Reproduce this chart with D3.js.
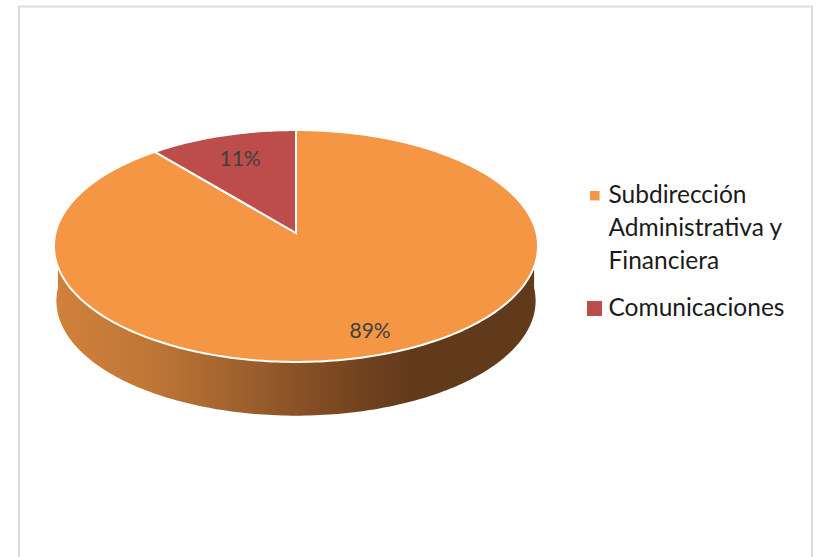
<!DOCTYPE html>
<html>
<head>
<meta charset="utf-8">
<script src="https://cdn.jsdelivr.net/npm/d3@7/dist/d3.min.js"></script>
<style>
  html, body { margin: 0; padding: 0; background: #fff; }
  svg { display: block; }
  text { font-family: Lato, "Open Sans", sans-serif; }
</style>
</head>
<body>
<svg id="chart" width="816" height="557"></svg>
<script>
// Budget share by office
const categories = ["Subdirección Administrativa y Financiera", "Comunicaciones"];
const values = [89, 11];
const legendLines = [["Subdirección", "Administrativa y", "Financiera"], ["Comunicaciones"]];
const colors = ["#F59645", "#BC4D4B"];

const width = 816, height = 557;
const svg = d3.select("#chart");

// Tilted disc: unit-circle points pass through a perspective projection
const hub = { x: 296, y: 233 };
const radiusX = 240.5, radiusY = 114.5, tilt = -0.112;
const project = (angle, r = 1, scale = 1, drop = 0) => {
  const u = Math.sin(angle) * r, v = -Math.cos(angle) * r;
  const w = 1 + tilt * v;
  return [hub.x + scale * radiusX * u / w, hub.y + drop + scale * radiusY * v / w];
};
const line = d3.line();

// Chart frame, open at the lower edge
svg.append("path")
  .attr("d", line([[19, height], [19, 6.5], [812, 6.5], [812, height]]))
  .attr("fill", "none").attr("stroke", "#DCDCDC").attr("stroke-width", 2);

// Rim shading runs from warm orange at the left to dark brown at the right
const defs = svg.append("defs");
const rimShade = defs.append("linearGradient").attr("id", "rim")
  .attr("gradientUnits", "userSpaceOnUse")
  .attr("x1", 57).attr("x2", 535).attr("y1", 0).attr("y2", 0);
[[0, "#D0813B"], [0.2, "#BE7636"], [0.36, "#A3642F"], [0.5, "#8A5227"], [0.66, "#6E401E"], [0.76, "#61391B"], [1, "#61391B"]]
  .forEach(([o, c]) => rimShade.append("stop").attr("offset", o).attr("stop-color", c));

// Rim: lower outline of the disc, closed behind the top face
const rimDrop = 55, rimScale = 0.99;
const sweep = d3.range(Math.PI * 0.5, Math.PI * 1.5 + 0.001, Math.PI / 180);
const lower = sweep.map(a => project(a, 1, rimScale, rimDrop));
const rimPath = [...lower, [lower[lower.length - 1][0], 252], [lower[0][0], 252]];
svg.append("path").attr("d", line(rimPath) + "Z").attr("fill", "url(#rim)");

// Top-face slices
const pie = d3.pie().sort(null)(values);
const sliceOutline = d => {
  const steps = d3.range(d.startAngle, d.endAngle, Math.PI / 180).concat(d.endAngle);
  return line([[hub.x, hub.y], ...steps.map(a => project(a))]) + "Z";
};
svg.selectAll("path.slice").data(pie).join("path")
  .attr("class", "slice")
  .attr("d", sliceOutline)
  .attr("fill", (d, i) => colors[i])
  .attr("stroke", "#fff").attr("stroke-width", 2).attr("stroke-linejoin", "miter");

// Percentage labels
const labelRadius = [0.83, 0.74];
const total = d3.sum(values);
svg.selectAll("text.pct").data(pie).join("text")
  .attr("class", "pct")
  .attr("x", (d, i) => project((d.startAngle + d.endAngle) / 2, labelRadius[i])[0])
  .attr("y", (d, i) => project((d.startAngle + d.endAngle) / 2, labelRadius[i])[1] + 7)
  .attr("text-anchor", "middle")
  .attr("font-size", 21).attr("fill", "#404040")
  .text(d => d3.format(".0%")(d.value / total));

// Legend
const legendX = 608.5;
const baselines = [[203, 236, 269], [316]];
const markers = [{ cx: 594.8, cy: 195.7, size: 9.5 }, { cx: 594.5, cy: 308.5, size: 15 }];
categories.forEach((name, i) => {
  const g = svg.append("g").attr("class", "legend-item");
  g.append("rect")
    .attr("x", markers[i].cx - markers[i].size / 2)
    .attr("y", markers[i].cy - markers[i].size / 2)
    .attr("width", markers[i].size).attr("height", markers[i].size)
    .attr("fill", colors[i]);
  legendLines[i].forEach((txt, j) => {
    g.append("text").attr("x", legendX).attr("y", baselines[i][j])
      .attr("font-size", 24.5).attr("fill", "#1a1a1a").text(txt);
  });
});
</script>
</body>
</html>
